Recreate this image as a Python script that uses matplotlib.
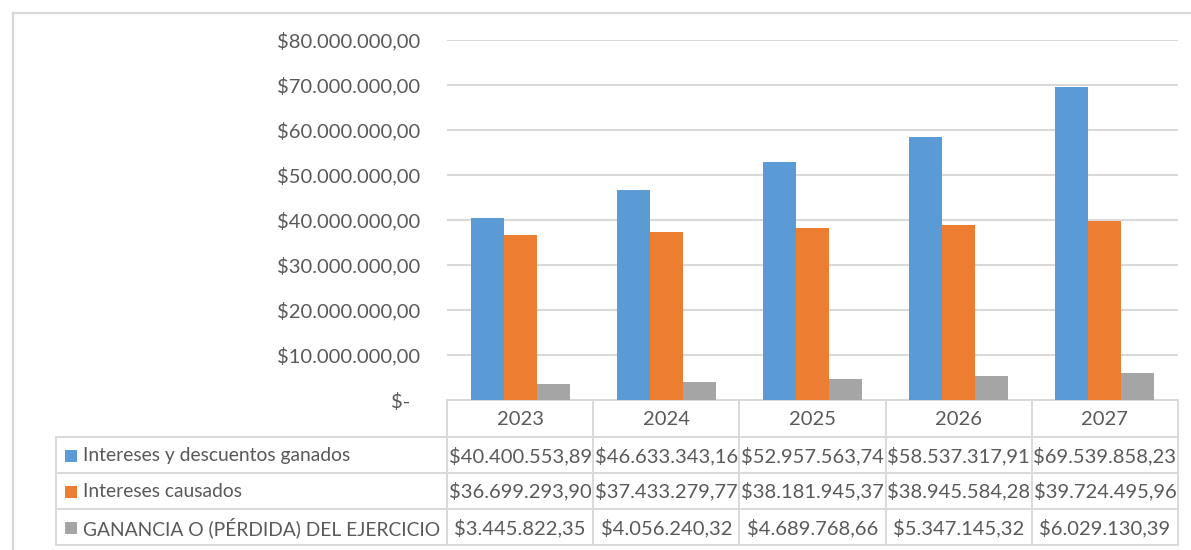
import matplotlib.pyplot as plt
import numpy as np
from matplotlib.patches import Rectangle
from matplotlib.ticker import FuncFormatter

years = ["2023", "2024", "2025", "2026", "2027"]
series_names = [
    "Intereses y descuentos ganados",
    "Intereses causados",
    "GANANCIA O (PÉRDIDA) DEL EJERCICIO",
]
ganados = [40400553.89, 46633343.16, 52957563.74, 58537317.91, 69539858.23]
causados = [36699293.90, 37433279.77, 38181945.37, 38945584.28, 39724495.96]
ganancia = [3445822.35, 4056240.32, 4689768.66, 5347145.32, 6029130.39]
series_colors = ["#5B9BD5", "#ED7D31", "#A5A5A5"]

TEXT = "#595959"
LINE = "#D9D9D9"
plt.rcParams["font.family"] = ["Lato", "DejaVu Sans"]


def money(v):
    # Colombian style: dot for thousands, comma for decimals
    s = f"{v:,.2f}"
    return "$" + s.replace(",", "_").replace(".", ",").replace("_", ".")


def axis_money(v, _pos):
    if abs(v) < 1:
        return "$-  "
    return money(v)


W, H = 1191, 550
fig = plt.figure(figsize=(W / 100, H / 100), dpi=100)

# plot area in pixel terms
left, right, top, base = 447, 1178, 40, 400
ax = fig.add_axes([left / W, 1 - base / H, (right - left) / W, (base - top) / H])

x = np.arange(len(years))
bw = 0.226
for i, (vals, col) in enumerate(zip([ganados, causados, ganancia], series_colors)):
    ax.bar(x + (i - 1) * bw, vals, bw, color=col, zorder=3)

ax.set_xlim(-0.5, len(years) - 0.5)
ax.set_ylim(0, 80e6)
ax.set_yticks(np.arange(0, 80e6 + 1, 10e6))
ax.yaxis.set_major_formatter(FuncFormatter(axis_money))
ax.tick_params(axis="y", length=0, pad=19, labelsize=14.5, labelcolor=TEXT)
ax.set_xticks([])
ax.grid(axis="y", color=LINE, lw=1.5, zorder=0)
for sp in ax.spines.values():
    sp.set_visible(False)

# overlay in pixel coordinates for the data table and frame
ov = fig.add_axes([0, 0, 1, 1], zorder=-1)
ov.set_xlim(0, W)
ov.set_ylim(H, 0)
ov.axis("off")
ov.patch.set_alpha(0)

lw = 1.4
ov.plot([13, W], [13, 13], color=LINE, lw=lw + 0.3)
ov.plot([13, 13], [13, H], color=LINE, lw=lw + 0.3)

edges = np.linspace(left, right, len(years) + 1)
row_y = [base, 437, 472.5, 508.5, 545]
label_left = 56

ov.plot([left, right], [base, base], color=LINE, lw=lw)
for y in row_y[1:]:
    ov.plot([label_left, right], [y, y], color=LINE, lw=lw)
for xe in edges:
    ov.plot([xe, xe], [base, row_y[-1]], color=LINE, lw=lw)
ov.plot([label_left, label_left], [row_y[1], row_y[-1]], color=LINE, lw=lw)

centers = (edges[:-1] + edges[1:]) / 2
for cx, yr in zip(centers, years):
    ov.text(cx, (row_y[0] + row_y[1]) / 2 + 1, yr, ha="center", va="center",
            fontsize=14.5, color=TEXT)

table_rows = [ganados, causados, ganancia]
for r, (name, col, vals) in enumerate(zip(series_names, series_colors, table_rows)):
    yc = (row_y[r + 1] + row_y[r + 2]) / 2 + 1
    ov.add_patch(Rectangle((65, yc - 6), 12, 12, color=col, lw=0))
    ov.text(83, yc, name, ha="left", va="center", fontsize=13.9, color=TEXT)
    for cx, v in zip(centers, vals):
        ov.text(cx, yc, money(v), ha="center", va="center", fontsize=14.5, color=TEXT)

fig.savefig("out.png", dpi=100)
